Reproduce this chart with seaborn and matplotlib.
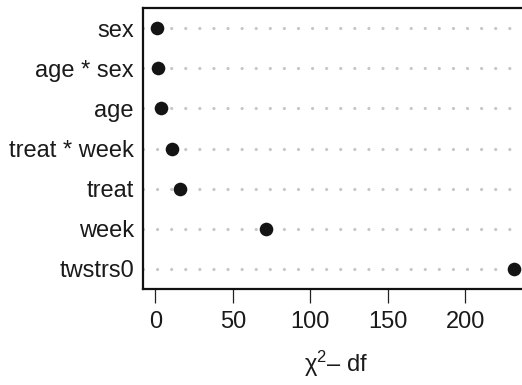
import matplotlib
matplotlib.use("Agg")
import matplotlib.pyplot as plt
import seaborn as sns
import pandas as pd

terms = ["sex", "age * sex", "age", "treat * week", "treat", "week", "twstrs0"]
chisq_minus_df = [1.3, 1.9, 3.7, 11.0, 16.1, 71.4, 231.4]

df = pd.DataFrame({"term": terms, "value": chisq_minus_df})

sns.set_theme(style="white")
plt.rcParams["font.family"] = ["Liberation Sans", "DejaVu Sans"]
plt.rcParams["mathtext.fontset"] = "custom"
plt.rcParams["mathtext.rm"] = "Liberation Sans"
plt.rcParams["mathtext.it"] = "Liberation Sans:italic"

fig = plt.figure(figsize=(5.22, 3.85), dpi=100)
W, H = 522, 385
x0, x1 = 143.0, 528.2
y_top, y_bot = 8.0, 289.0
ax = fig.add_axes([x0 / W, (H - y_bot) / H, (x1 - x0) / W, (y_bot - y_top) / H])

sns.stripplot(data=df, x="value", y="term", order=terms, orient="h",
              jitter=False, size=9.8, color="#141414", linewidth=0,
              zorder=3, ax=ax)

ax.set_xlim(-7.9, 240.6)
ax.set_ylim(len(terms) - 0.5, -0.5)
ax.set_xticks([0, 50, 100, 150, 200])

ax.yaxis.grid(True, color="#c6c6c6", linewidth=2.3,
              linestyle=(0, (0.01, 4.4)), dash_capstyle="round", zorder=0)
ax.xaxis.grid(False)
ax.set_axisbelow(True)

for side in ["left", "bottom", "top"]:
    ax.spines[side].set_visible(True)
    ax.spines[side].set_color("#111111")
    ax.spines[side].set_linewidth(1.6)
ax.spines["right"].set_visible(False)

ax.tick_params(axis="x", which="major", bottom=True, length=10, width=0.9,
               color="#222222", pad=5.5, labelsize=17, labelcolor="#1a1a1a")
ax.tick_params(axis="y", which="major", left=False, length=0, pad=6.5,
               labelsize=17, labelcolor="#1a1a1a")

ax.set_ylabel("")
ax.set_xlabel(r"$\mathregular{\chi^2}$– df", fontsize=17, color="#1a1a1a",
              labelpad=12)

fig.savefig("out.png", dpi=100)
